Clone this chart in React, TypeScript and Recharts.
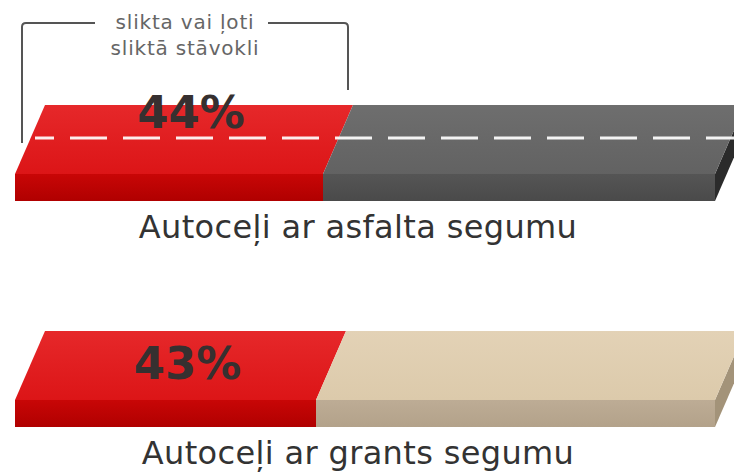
import React from 'react'
import { BarChart, Bar, XAxis, YAxis, LabelList } from 'recharts'

// values
const categories = ['Autoceļi ar asfalta segumu', 'Autoceļi ar grants segumu']
const badShare = [44, 43]
const restShare = [56, 57]
const calloutLines = ['slikta vai ļoti', 'sliktā stāvokli']

const chartData = categories.map((name, i) => ({
    name,
    bad: badShare[i],
    rest: restShare[i]
}))

const SLANT = 30
const FRONT = 27
const ROAD_ROW = 0
const CALLOUT_ROW = 0
const FONT = '"DejaVu Sans", Verdana, sans-serif'

const restFill = [
    { top: 'url(#grayTop)', front: 'url(#grayFront)', side: '#2b2b2b' },
    { top: 'url(#beigeTop)', front: 'url(#beigeFront)', side: '#a39379' }
]

const BadShape = (props: any) => {
    const { x, y, width: w, height: h } = props
    const t = h - FRONT
    return (
        <g>
            <polygon
                points={`${x + SLANT},${y} ${x + w + SLANT},${y} ${x + w},${y + t} ${x},${y + t}`}
                fill="url(#redTop)"
            />
            <rect x={x} y={y + t} width={w} height={FRONT} fill="url(#redFront)" />
        </g>
    )
}

const RestShape = (props: any) => {
    const { x, y, width: w, height: h, index } = props
    const t = h - FRONT
    const c = restFill[index] || restFill[0]
    return (
        <g>
            <polygon
                points={`${x + w},${y + t} ${x + w + SLANT},${y} ${x + w + SLANT},${y + FRONT} ${x + w},${y + h}`}
                fill={c.side}
            />
            <polygon
                points={`${x + SLANT},${y} ${x + w + SLANT},${y} ${x + w},${y + t} ${x},${y + t}`}
                fill={c.top}
            />
            <rect x={x} y={y + t} width={w} height={FRONT} fill={c.front} />
        </g>
    )
}

const PercentLabel = (props: any) => {
    const { x, y, width: w, value, index } = props
    const cx = x + w / 2 + 22
    const baseline = index === ROAD_ROW ? y + 23 : y + 48
    const right = x + w + SLANT - 5
    return (
        <g>
            {index === CALLOUT_ROW && (
                <g>
                    <path
                        d={`M ${x + 7} ${y + 38} L ${x + 7} ${y - 78} Q ${x + 7} ${y - 82} ${x + 11} ${y - 82} L ${x + 80} ${y - 82}
                            M ${right - 80} ${y - 82} L ${right - 4} ${y - 82} Q ${right} ${y - 82} ${right} ${y - 78} L ${right} ${y - 15}`}
                        fill="none"
                        stroke="#555"
                        strokeWidth={2}
                    />
                    {calloutLines.map((line, k) => (
                        <text
                            key={k}
                            x={(x + 7 + right) / 2}
                            y={y - 76 + k * 26}
                            textAnchor="middle"
                            fontFamily={FONT}
                            fontSize={20}
                            letterSpacing={0.8}
                            fill="#666"
                        >
                            {line}
                        </text>
                    ))}
                </g>
            )}
            <text
                x={cx}
                y={baseline}
                textAnchor="middle"
                fontFamily={FONT}
                fontWeight="bold"
                fontSize={45}
                fill="#363030"
            >
                {`${value}%`}
            </text>
        </g>
    )
}

const RoadLine = (props: any) => {
    const { x, y, width: w, index } = props
    if (index !== ROAD_ROW) return null
    const left = x - (w * badShare[index]) / restShare[index]
    return (
        <line
            x1={left + 20}
            x2={x + w + SLANT + 20}
            y1={y + 33}
            y2={y + 33}
            stroke="#ffffff"
            strokeOpacity={0.92}
            strokeWidth={3}
            strokeDasharray="37 16"
            strokeDashoffset={18}
        />
    )
}

const CategoryLabel = (props: any) => {
    const { y, height: h, index } = props
    return (
        <text
            x={358}
            y={y + h + 37}
            textAnchor="middle"
            fontFamily={FONT}
            fontSize={32}
            letterSpacing={0.35}
            fill="#333"
        >
            {categories[index]}
        </text>
    )
}

export default function App() {
    return (
        <div style={{ width: 734, height: 472, overflow: 'hidden', background: '#fff' }}>
            <style>{`body{margin:0}`}</style>
            <BarChart
                width={734}
                height={492}
                data={chartData}
                layout="vertical"
                margin={{ top: 40, right: 19, left: 15, bottom: 0 }}
                barSize={96}
            >
                <defs>
                    <linearGradient id="redTop" x1="0" y1="0" x2="0" y2="1">
                        <stop offset="0%" stopColor="#e6282a" />
                        <stop offset="100%" stopColor="#dc1517" />
                    </linearGradient>
                    <linearGradient id="redFront" x1="0" y1="0" x2="0" y2="1">
                        <stop offset="0%" stopColor="#c80606" />
                        <stop offset="100%" stopColor="#b00000" />
                    </linearGradient>
                    <linearGradient id="grayTop" x1="0" y1="0" x2="0" y2="1">
                        <stop offset="0%" stopColor="#6e6e6e" />
                        <stop offset="100%" stopColor="#626262" />
                    </linearGradient>
                    <linearGradient id="grayFront" x1="0" y1="0" x2="0" y2="1">
                        <stop offset="0%" stopColor="#555555" />
                        <stop offset="100%" stopColor="#4a4a4a" />
                    </linearGradient>
                    <linearGradient id="beigeTop" x1="0" y1="0" x2="0" y2="1">
                        <stop offset="0%" stopColor="#e3d2b6" />
                        <stop offset="100%" stopColor="#dccaab" />
                    </linearGradient>
                    <linearGradient id="beigeFront" x1="0" y1="0" x2="0" y2="1">
                        <stop offset="0%" stopColor="#bdac95" />
                        <stop offset="100%" stopColor="#b3a28a" />
                    </linearGradient>
                </defs>
                <XAxis type="number" domain={[0, 100]} hide />
                <YAxis type="category" dataKey="name" hide />
                <Bar dataKey="bad" stackId="a" shape={<BadShape />} isAnimationActive={false}>
                    <LabelList dataKey="bad" content={<PercentLabel />} />
                </Bar>
                <Bar dataKey="rest" stackId="a" shape={<RestShape />} isAnimationActive={false}>
                    <LabelList dataKey="rest" content={<RoadLine />} />
                    <LabelList dataKey="name" content={<CategoryLabel />} />
                </Bar>
            </BarChart>
        </div>
    )
}
